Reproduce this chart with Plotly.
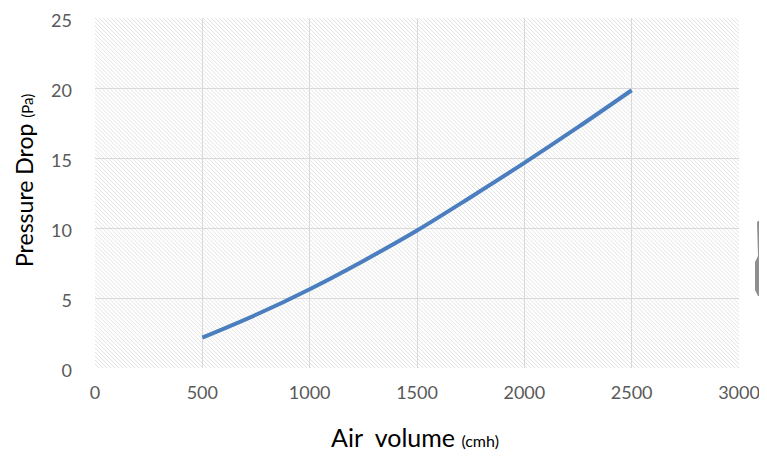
import base64
import plotly.graph_objects as go

# Data
air_volume = [500, 750, 1000, 1250, 1500, 1750, 2000, 2250, 2500]
pressure_drop = [2.17, 3.8, 5.63, 7.65, 9.82, 12.2, 14.65, 17.2, 19.84]
x_ticks = [0, 500, 1000, 1500, 2000, 2500, 3000]
y_ticks = [0, 5, 10, 15, 20, 25]
x_title = "Air  volume <span style='font-size:16px'>(cmh)</span>"
y_title = "Pressure Drop <span style='font-size:15px'>(Pa)</span>"

# Hatched background pattern for the plot area (style only)
svg = (
    "<svg xmlns='http://www.w3.org/2000/svg' width='644' height='352'>"
    "<defs><pattern id='h' patternUnits='userSpaceOnUse' width='4' height='4'>"
    "<rect width='4' height='4' fill='white'/>"
    "<path d='M-1,-1 L5,5 M-1,3 L1,5 M3,-1 L5,1' stroke='#e0e0e0' stroke-width='0.9'/>"
    "</pattern></defs>"
    "<rect width='644' height='352' fill='url(#h)'/></svg>"
)
svg_uri = "data:image/svg+xml;base64," + base64.b64encode(svg.encode()).decode()

fig = go.Figure()
fig.add_trace(go.Scatter(
    x=air_volume, y=pressure_drop, mode="lines",
    line=dict(color="#4a7ebf", width=4, shape="spline"),
    showlegend=False, hoverinfo="x+y",
))

fig.add_layout_image(dict(
    source=svg_uri, xref="x", yref="y", x=0, y=25, sizex=3000, sizey=25,
    sizing="stretch", layer="below", xanchor="left", yanchor="top",
))

# page pixel -> paper coordinate helpers (plot area 95..739 x 18..368)
PLOT_LEFT, PLOT_RIGHT, PLOT_TOP, PLOT_BOTTOM = 95, 739, 18, 368
def px(xp):
    return (xp - PLOT_LEFT) / (PLOT_RIGHT - PLOT_LEFT)
def py(yp):
    return (PLOT_BOTTOM - yp) / (PLOT_BOTTOM - PLOT_TOP)

# grey clipped object at right edge of the original picture
path = (f"M {px(757)},{py(222)} L {px(762)},{py(218)} L {px(767)},{py(218)} "
        f"L {px(767)},{py(296)} L {px(758)},{py(296)} L {px(755)},{py(290)} "
        f"L {px(755)},{py(262)} L {px(758)},{py(256)} Z")
fig.add_shape(type="path", path=path, xref="paper", yref="paper",
              fillcolor="#8f8f8f", line=dict(width=0), layer="above")

# axis titles
fig.add_annotation(text=y_title, xref="paper", yref="paper", x=px(24), y=py(181),
                   textangle=-90, showarrow=False, xanchor="center", yanchor="middle",
                   font=dict(size=23, color="#000000"))
fig.add_annotation(text=x_title, xref="paper", yref="paper", x=px(415), y=py(437),
                   showarrow=False, xanchor="center", yanchor="middle",
                   font=dict(size=25, color="#000000"))

font_family = "Lato, 'Open Sans', sans-serif"
fig.update_layout(
    width=759, height=452,
    margin=dict(l=87, r=28, t=10, b=92),
    paper_bgcolor="white",
    plot_bgcolor="rgba(0,0,0,0)",
    font=dict(family=font_family, color="#595959", size=18),
    xaxis=dict(
        range=[0, 3000], tickvals=x_ticks, ticktext=[str(v) for v in x_ticks],
        showgrid=True, gridcolor="#d9d9d9", gridwidth=1, automargin=False,
        ticklabeloverflow="allow",
        zeroline=False, showline=False, ticks="", ticklabelstandoff=12,
        tickfont=dict(size=18, color="#595959"),
    ),
    yaxis=dict(
        range=[0, 25], tickvals=y_ticks, ticktext=[str(v) for v in y_ticks],
        showgrid=True, gridcolor="#d9d9d9", gridwidth=1, automargin=False,
        ticklabeloverflow="allow", ticklabelshift=3,
        zeroline=False, showline=False, ticks="", ticklabelstandoff=22,
        tickfont=dict(size=18, color="#595959"),
    ),
)

fig.write_html("out.html")
